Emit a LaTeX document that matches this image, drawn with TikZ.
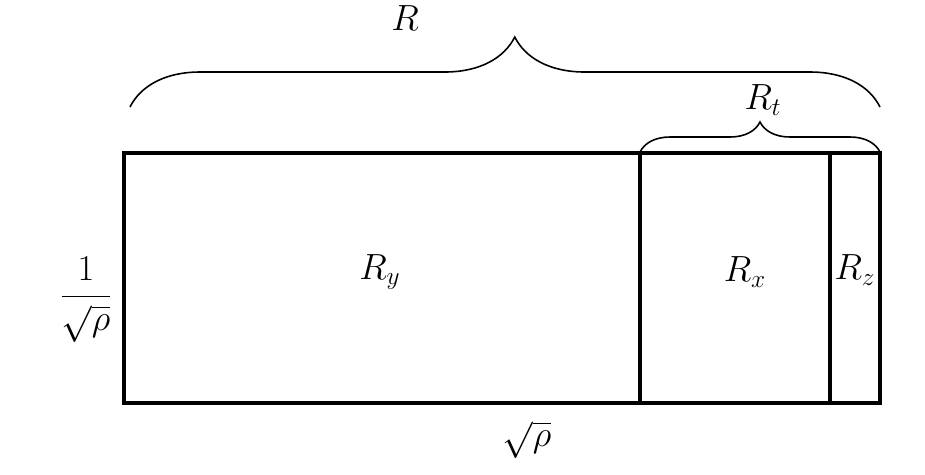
\documentclass[tikz,border=0pt]{standalone}
\usetikzlibrary{decorations.pathreplacing}
\begin{document}
\begin{tikzpicture}[x=0.02cm,y=-0.02cm,
  box/.style={draw,line width=1.9pt},
  lbl/.style={font=\huge},
  brc/.style={draw,line width=0.9pt,decorate}]
\useasboundingbox (0,0) rectangle (925,474);
\coordinate (A) at (124,153); \coordinate (B) at (880,403);
\draw[box] (A) rectangle (B);
\coordinate (d1t) at (640,153); \coordinate (d1b) at (640,403);
\coordinate (d2t) at (830,153); \coordinate (d2b) at (830,403);
\draw[box] (d1t) -- (d1b);
\draw[box] (d2t) -- (d2b);
\coordinate (b1) at (130,107); \coordinate (b2) at (880,107);
\draw[brc,decoration={brace,amplitude=1.4cm,aspect=0.513}] (b1) -- (b2);
\coordinate (c1) at (640,152); \coordinate (c2) at (880,152);
\draw[brc,decoration={brace,amplitude=0.6cm,aspect=0.5}] (c1) -- (c2);
\node[lbl] (R) at (405,18) {$R$};
\node[lbl] (Rt) at (763,100) {$R_t$};
\node[lbl] (Ry) at (380,272) {$R_y$};
\node[lbl] (Rx) at (745,272) {$R_x$};
\node[lbl] (Rz) at (855,270) {$R_z$};
\node[lbl,inner sep=1pt] (h) at (86,300) {$\displaystyle\frac{1}{\sqrt{\rho}}$};
\node[lbl] (w) at (527,440) {$\sqrt{\rho}$};
\end{tikzpicture}
\end{document}
